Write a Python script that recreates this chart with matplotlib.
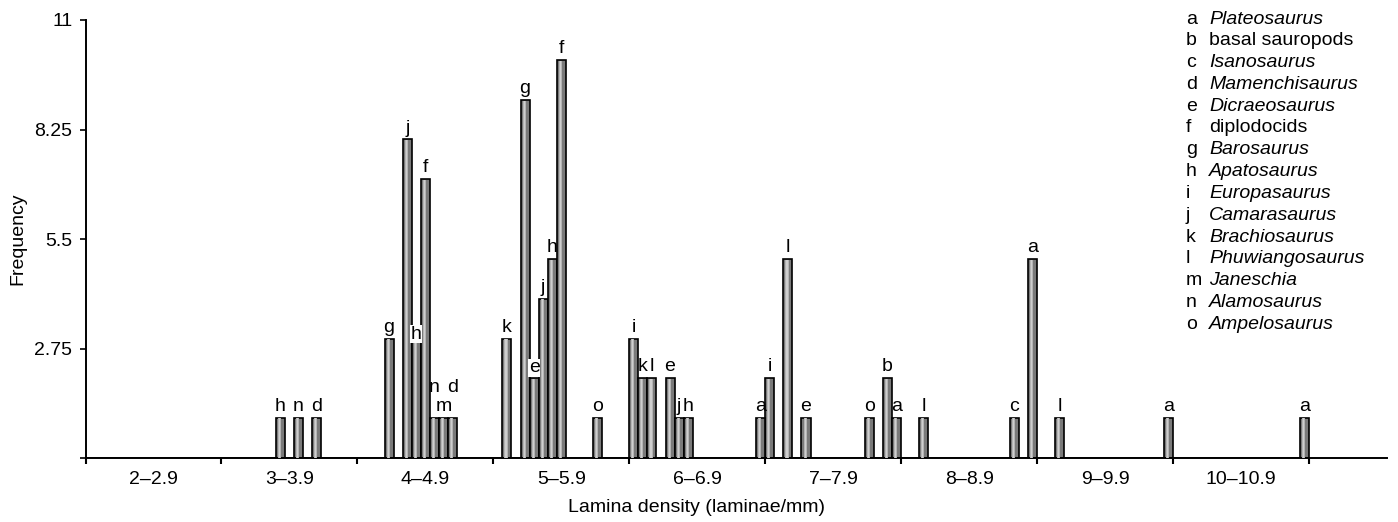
import matplotlib.pyplot as plt
import numpy as np

plt.rcParams['font.family'] = ['Liberation Sans', 'DejaVu Sans']

# lamina density bins
categories = ['2–2.9', '3–3.9', '4–4.9', '5–5.9', '6–6.9',
              '7–7.9', '8–8.9', '9–9.9', '10–10.9']

# series order inside each bin (left to right)
slot_order = ['i', 'k', 'l', 'g', 'e', 'j', 'h', 'f', 'n', 'm', 'd', 'o', 'c', 'b', 'a']

# frequency per taxon for each bin
freq_a = [0, 0, 0, 0, 1, 1, 5, 1, 1]
freq_b = [0, 0, 0, 0, 0, 2, 0, 0, 0]
freq_c = [0, 0, 0, 0, 0, 0, 1, 0, 0]
freq_d = [0, 1, 1, 0, 0, 0, 0, 0, 0]
freq_e = [0, 0, 0, 2, 2, 1, 0, 0, 0]
freq_f = [0, 0, 7, 10, 0, 0, 0, 0, 0]
freq_g = [0, 0, 3, 9, 0, 0, 0, 0, 0]
freq_h = [0, 1, 3, 5, 1, 0, 0, 0, 0]
freq_i = [0, 0, 0, 0, 3, 2, 0, 0, 0]
freq_j = [0, 0, 8, 4, 1, 0, 0, 0, 0]
freq_k = [0, 0, 0, 3, 2, 0, 0, 0, 0]
freq_l = [0, 0, 0, 0, 2, 5, 1, 1, 0]
freq_m = [0, 0, 1, 0, 0, 0, 0, 0, 0]
freq_n = [0, 1, 1, 0, 0, 0, 0, 0, 0]
freq_o = [0, 0, 0, 1, 0, 1, 0, 0, 0]

freqs = {'a': freq_a, 'b': freq_b, 'c': freq_c, 'd': freq_d, 'e': freq_e,
         'f': freq_f, 'g': freq_g, 'h': freq_h, 'i': freq_i, 'j': freq_j,
         'k': freq_k, 'l': freq_l, 'm': freq_m, 'n': freq_n, 'o': freq_o}

# key text
key_letters = ['a', 'b', 'c', 'd', 'e', 'f', 'g', 'h', 'i', 'j', 'k', 'l', 'm', 'n', 'o']
key_names = ['Plateosaurus', 'basal sauropods', 'Isanosaurus', 'Mamenchisaurus',
             'Dicraeosaurus', 'diplodocids', 'Barosaurus', 'Apatosaurus',
             'Europasaurus', 'Camarasaurus', 'Brachiosaurus', 'Phuwiangosaurus',
             'Janeschia', 'Alamosaurus', 'Ampelosaurus']
key_italic = [True, False, True, True, True, False, True, True,
              True, True, True, True, True, True, True]

yticks = [0, 2.75, 5.5, 8.25, 11]

FS = 14
W, H = 1398, 522
fig = plt.figure(figsize=(W / 100, H / 100), dpi=100)
ax = fig.add_axes([85.5 / W, 64 / H, 1301.5 / W, 438 / H])

nslot = len(slot_order)
bw = 1.0 / nslot
x = np.arange(len(categories))

# special label tweaks (points offset, white box)
label_fix = {('n', 2): (19, False), ('d', 2): (19, False),
             ('h', 2): (0, True), ('e', 3): (4.5, True)}

for k, s in enumerate(slot_order):
    vals = np.array(freqs[s], dtype=float)
    xs = x - 0.5 + (k + 0.5) * bw
    ax.bar(xs, vals, width=bw, color='#7a7a7a', edgecolor='black', linewidth=1.2, zorder=2)
    # lighter stripe for the gradient look
    ax.bar(xs - 0.1 * bw, vals * 0.997, width=0.34 * bw, color='#b4b4b4', linewidth=0, zorder=3)
    ax.bar(xs - 0.1 * bw, vals * 0.997, width=0.12 * bw, color='#cfcfcf', linewidth=0, zorder=3)
    for xi, v, ci in zip(xs, vals, range(len(categories))):
        if v <= 0:
            continue
        dy, box = label_fix.get((s, ci), (5, False))
        t = ax.annotate(s, (xi, v), xytext=(0, dy), textcoords='offset points',
                        ha='center', va='baseline', fontsize=FS, zorder=5)
        if box:
            t.set_bbox(dict(facecolor='white', edgecolor='none', pad=0.3))

ax.set_xlim(-0.5, 8.5 + 78 / 135.9)
ax.set_ylim(0, 11)

ax.set_yticks(yticks)
ax.set_yticklabels([''] + [f'{v:g}' for v in yticks[1:]])
ax.tick_params(axis='y', direction='out', length=4.5, width=1.2, pad=5, labelsize=FS)

ax.set_xticks(np.arange(-0.5, 9.0, 1.0))
ax.set_xticklabels([])
ax.set_xticks(x, minor=True)
ax.set_xticklabels(categories, minor=True)
ax.tick_params(axis='x', which='major', direction='out', length=4, width=1.5)
ax.tick_params(axis='x', which='minor', length=0, pad=9.5, labelsize=FS)

for sp in ['top', 'right']:
    ax.spines[sp].set_visible(False)
for sp in ['left', 'bottom']:
    ax.spines[sp].set_linewidth(1.4)

ax.set_xlabel('Lamina density (laminae/mm)', fontsize=FS, va='center')
ax.xaxis.set_label_coords((697 - 85.5) / 1301.5, (458 - 508) / 438)
ax.set_ylabel('Frequency', fontsize=FS, va='center')
ax.yaxis.set_label_coords((18 - 85.5) / 1301.5, 0.5)

# key in the upper right
for i, (let, name, it) in enumerate(zip(key_letters, key_names, key_italic)):
    ypix = 19 + 21.8 * i
    fig.text(1186 / W, 1 - ypix / H, let, fontsize=FS, ha='left', va='center')
    fig.text(1209 / W, 1 - ypix / H, name, fontsize=FS, ha='left', va='center',
             style='italic' if it else 'normal')

fig.savefig('out.png', dpi=100)
